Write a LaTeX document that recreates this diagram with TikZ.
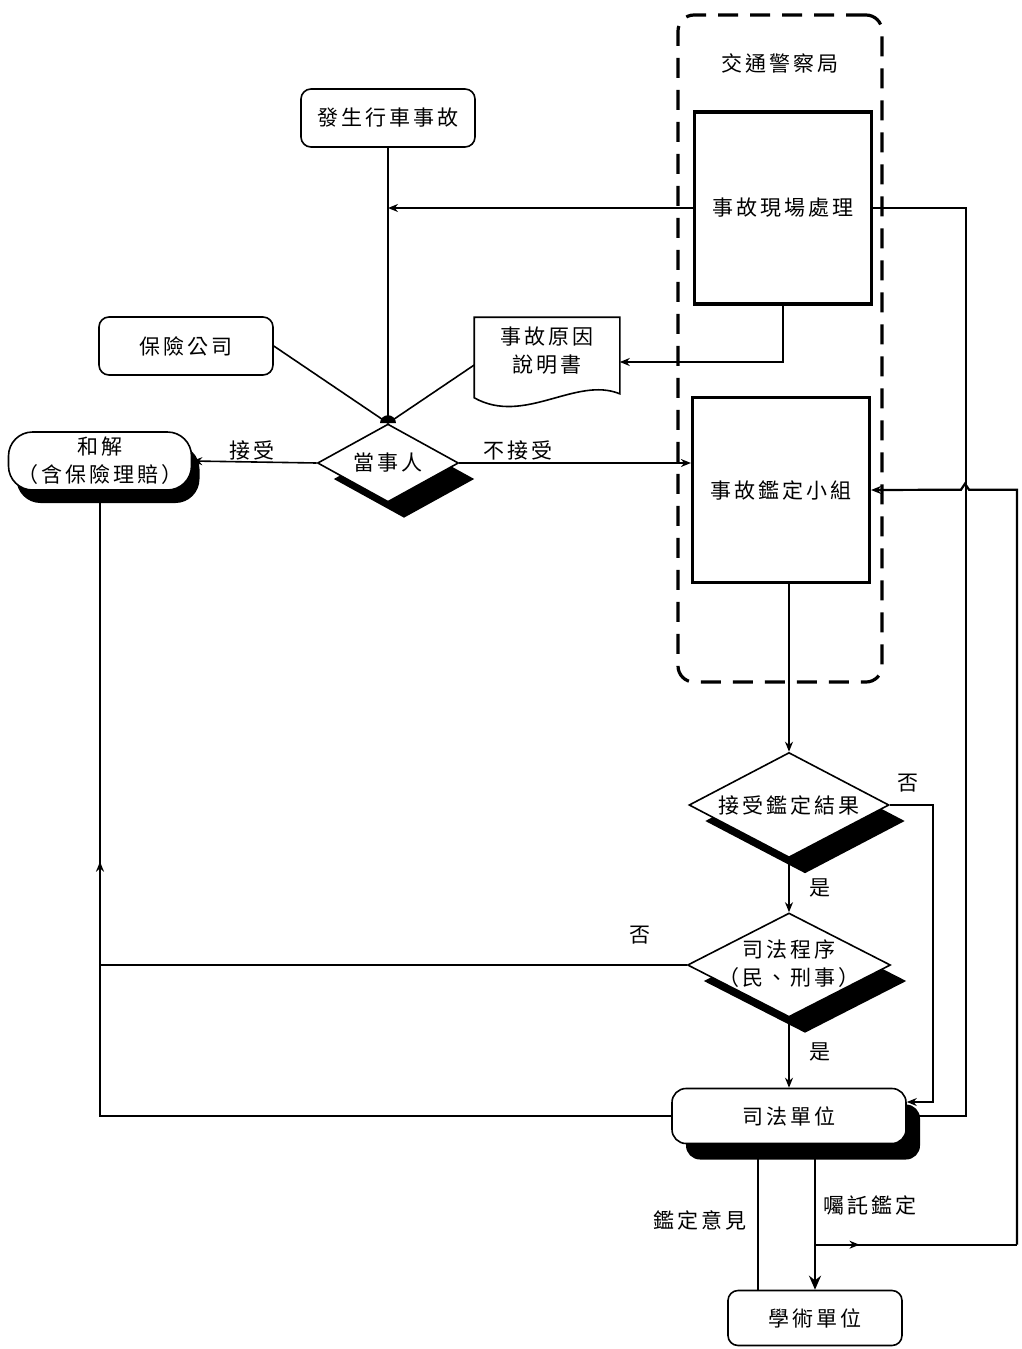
\documentclass[tikz,border=0pt]{standalone}
\usepackage{fontspec}
\setmainfont{Noto Sans CJK TC}[LetterSpace=14]
\usetikzlibrary{shapes.geometric,shadows,calc,decorations.markings,arrows.meta}

\begin{document}
\begin{tikzpicture}
[x=0.5pt,y=-0.5pt,>={Stealth[length=5pt,width=4pt]},line width=0.8pt,font=\fontsize{10.5}{14}\selectfont,
 rbox/.style = {draw, rounded corners=5pt, minimum width=87pt, minimum height=29pt, inner sep=0pt, fill=white},
 procbox/.style = {draw, line width=1.6pt, minimum width=88.5pt, inner sep=0pt},
 decide/.style = {draw, diamond, aspect=2.5, fill=white, inner sep=0pt, drop shadow={shadow xshift=8pt, shadow yshift=-8pt, fill=black, opacity=1}},
 midarrow/.style = {postaction={decorate}, decoration={markings, mark=at position #1 with {\arrow{Stealth[length=5pt,width=4pt]}}}},]

\useasboundingbox (0,0) rectangle (1022,1349);

% traffic police
\node[draw, dash pattern=on 10pt off 6pt, line width=1.6pt, rounded corners=8pt, minimum width=102pt, minimum height=333.5pt] (police) at (780,348.5) {};
\node (policelbl) at (780,63) {交通警察局};
\node[procbox, minimum height=96pt] (scene) at (783,208) {事故現場處理};
\node[procbox, minimum height=92.5pt] (panel) at (781,490) {事故鑑定小組};

\node[rbox] (crash) at (388,118) {發生行車事故};
\node[rbox] (insur) at (186,346) {保險公司};
\node[minimum width=72pt, minimum height=33pt, inner sep=0pt, align=center] (doc) at (547,351) {事故原因\\說明書};
\draw (doc.north west) -- (doc.north east) -- ($(doc.south east)+(0,9)$)
  .. controls ($(doc.south east)+(-44,-9)$) and ($(doc.south west)+(50,41)$) .. ($(doc.south west)+(0,13)$) -- cycle;

\node[decide, minimum width=70.5pt, minimum height=39pt] (party) at (388,463) {當事人};
\node[rbox, rounded corners=12pt, minimum width=91.5pt, align=center, drop shadow={shadow xshift=4pt, shadow yshift=-6.5pt, fill=black, opacity=1}] (settle) at (100,461) {和解\\（含保險理賠）};

\node[decide, minimum width=100pt, minimum height=52.5pt] (accept) at (789,805) {接受鑑定結果};
\node[decide, minimum width=101.5pt, minimum height=52pt] (legal) at (789,965) {};
\node[align=center] (legaltxt) at (789,964) {司法程序\\（民、刑事）};
\node[rbox, rounded corners=7pt, minimum width=117pt, minimum height=27.5pt, drop shadow={shadow xshift=7pt, shadow yshift=-8pt, fill=black, opacity=1}] (court) at (789,1116) {司法單位};
\node[rbox, minimum height=27.5pt] (acad) at (815,1318) {學術單位};

% texts on the lines
\node (yes1) at (252,450) {接受};
\node (no1) at (518,450) {不接受};
\node (no2) at (908,783) {否};
\node (yes2) at (820,888) {是};
\node (no3) at (640,935) {否};
\node (yes3) at (820,1052) {是};
\node (opinion) at (700,1220) {鑑定意見};
\node (entrust) at (870,1205) {囑託鑑定};

\draw (crash) -- (party.north);
\draw[->] (scene.west) -- (crash |- scene.west);
\draw[->] (scene.south) |- ([yshift=-5.5pt]doc.east);
\draw (insur.east) -- (party.north);
\draw ([yshift=-7pt]doc.west) -- (party.north);
\fill (party.north) ++(-8,0) arc[start angle=180, end angle=360, radius=8];
\draw[->] (party.west) -- (settle.east);
\draw[->] (party.east) -- (panel.west |- party.east);
\draw[->] (scene.east) -- ++(93,0) |- (court.east);
\draw[->] (accept.east) -- ++(43,0) |- ([yshift=7pt]court.east);
\draw[->] (panel.south -| accept.north) -- (accept.north);
\draw[->] (accept.south) -- (legal.north);
\draw[->] (legal.south) -- (court.north);
\draw (legal.west) -- (settle.south |- legal.west);
\draw[midarrow=0.69] (court.west) -| (settle.south);
\draw[-{Stealth[length=7pt,width=6pt]}, line width=1.3pt] (court.south -| acad.north) -- (acad.north);
\draw[->] ([xshift=-28.5pt]acad.north) -- ([xshift=-28.5pt]acad.north |- court.south);
\coordinate (fork) at ($(acad.north)+(0,-45)$);
\draw[midarrow=0.22, line width=1.1pt] (fork) -- ++(202,0);
\draw[->, line width=1.1pt] (fork) ++(202,0) -- ++(0,-755) -- ++(-48,0) -- ++(-4,-6) -- ++(-4,6) -- (panel.east);
\end{tikzpicture}
\end{document}
